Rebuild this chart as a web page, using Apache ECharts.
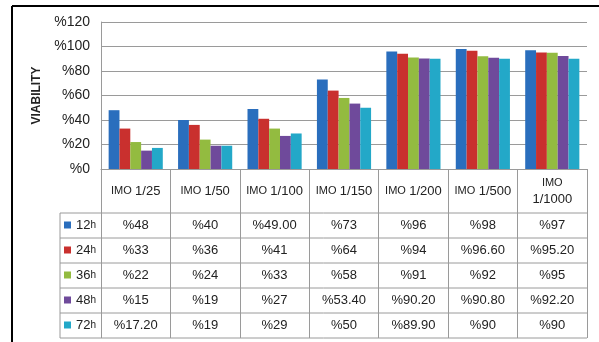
<!DOCTYPE html>
<html>
<head>
<meta charset="utf-8">
<script src="https://cdn.jsdelivr.net/npm/echarts@6/dist/echarts.min.js"></script>
<style>
  html, body { margin: 0; padding: 0; background: #fff; }
  #chart { width: 599px; height: 342px; }
</style>
</head>
<body>
<div id="chart"></div>
<script>
const categories = ["IMO 1/25", "IMO 1/50", "IMO 1/100", "IMO 1/150", "IMO 1/200", "IMO 1/500", "IMO 1/1000"];
const seriesNames = ["12h", "24h", "36h", "48h", "72h"];
// values as printed in the data table (kept as text so decimals match)
const h12 = ["48", "40", "49.00", "73", "96", "98", "97"];
const h24 = ["33", "36", "41", "64", "94", "96.60", "95.20"];
const h36 = ["22", "24", "33", "58", "91", "92", "95"];
const h48 = ["15", "19", "27", "53.40", "90.20", "90.80", "92.20"];
const h72 = ["17.20", "19", "29", "50", "89.90", "90", "90"];
const colors = ["#2a6ebd", "#c9302e", "#93bb40", "#6f4a9b", "#23a8c8"];

const rows = [h12, h24, h36, h48, h72];

// layout
const gridLeft = 101, gridRight = 587, gridTop = 22, gridBottom = 169;
const headerH = 44, rowH = 25, legendLeft = 60;
const tableTop = gridBottom + headerH;
const tableBottom = tableTop + rowH * rows.length;
const lineColor = "#9a9a9a";

const chart = echarts.init(document.getElementById("chart"));

function headerLabel(value) {
  const parts = value.split(" ");
  const sep = value.length > 9 ? "\n" : " ";
  return `{s|${parts[0]}}${sep}{b|${parts[1]}}`;
}

const rowAxes = rows.map((vals, i) => ({
  type: "category",
  data: categories,
  gridIndex: 0,
  position: "bottom",
  offset: headerH + rowH * i,
  axisLine: { show: false },
  axisTick: { show: false },
  axisLabel: {
    interval: 0,
    margin: rowH / 2,
    verticalAlign: "middle",
    fontFamily: "Liberation Sans, Arial",
    fontSize: 13,
    color: "#222",
    formatter: (v, idx) => "%" + vals[idx]
  }
}));

const tableLines = [];
for (let i = 0; i <= rows.length; i++) {
  const y = tableTop + rowH * i;
  tableLines.push({
    type: "line",
    shape: { x1: legendLeft, y1: y, x2: gridRight, y2: y },
    style: { stroke: lineColor, lineWidth: 1 }
  });
}
tableLines.push({
  type: "line",
  shape: { x1: legendLeft, y1: tableTop, x2: legendLeft, y2: tableBottom },
  style: { stroke: lineColor, lineWidth: 1 }
});
// outer frame
tableLines.push({
  type: "line",
  shape: { x1: 12, y1: 6, x2: 599, y2: 6 },
  style: { stroke: "#000", lineWidth: 2 }
});
tableLines.push({
  type: "line",
  shape: { x1: 12, y1: 6, x2: 12, y2: 342 },
  style: { stroke: "#000", lineWidth: 2 }
});

chart.setOption({
  animation: false,
  color: colors,
  textStyle: { fontFamily: "Liberation Sans, Arial" },
  grid: {
    left: gridLeft,
    right: 599 - gridRight,
    top: gridTop,
    bottom: 342 - gridBottom
  },
  legend: {
    orient: "vertical",
    left: legendLeft + 4,
    top: tableTop + 4,
    padding: 0,
    itemWidth: 7,
    itemHeight: 7,
    itemGap: 9,
    icon: "rect",
    data: seriesNames,
    formatter: (name) => `{n|${name.slice(0, -1)}}{u|${name.slice(-1)}}`,
    textStyle: {
      height: 16,
      rich: {
        n: { fontSize: 13, color: "#222", height: 16, lineHeight: 16, verticalAlign: "bottom" },
        u: { fontSize: 10, color: "#222", height: 16, lineHeight: 16, verticalAlign: "bottom" }
      }
    }
  },
  xAxis: [
    {
      type: "category",
      data: categories,
      axisLine: { lineStyle: { color: lineColor } },
      axisTick: {
        show: true,
        length: headerH + rowH * rows.length,
        lineStyle: { color: lineColor }
      },
      axisLabel: {
        interval: 0,
        margin: headerH / 2,
        verticalAlign: "middle",
        color: "#222",
        formatter: headerLabel,
        rich: {
          s: { fontSize: 11, color: "#222", lineHeight: 16 },
          b: { fontSize: 13, color: "#222", lineHeight: 16 }
        }
      }
    },
    ...rowAxes
  ],
  yAxis: {
    type: "value",
    min: 0,
    max: 120,
    interval: 20,
    name: "VIABILITY",
    nameLocation: "middle",
    nameRotate: 90,
    nameGap: 58,
    nameTextStyle: { fontSize: 12, fontWeight: "bold", color: "#222" },
    axisLine: { show: true, lineStyle: { color: lineColor } },
    axisTick: { show: false },
    splitLine: { lineStyle: { color: lineColor } },
    axisLabel: {
      margin: 11,
      fontSize: 14,
      color: "#222",
      formatter: (v) => "%" + v
    }
  },
  series: rows.map((vals, i) => ({
    name: seriesNames[i],
    type: "bar",
    xAxisIndex: 0,
    barGap: "0%",
    barCategoryGap: "22%",
    data: vals.map(Number)
  })),
  graphic: tableLines
});
</script>
</body>
</html>
